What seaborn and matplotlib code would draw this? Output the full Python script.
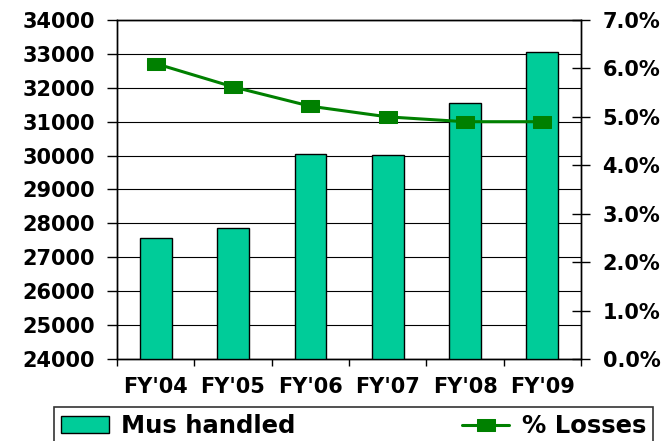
import matplotlib
matplotlib.use("Agg")
import matplotlib.pyplot as plt
import seaborn as sns
import numpy as np
from matplotlib.path import Path
from matplotlib.ticker import FuncFormatter, FixedLocator

# data
years = ["FY'04", "FY'05", "FY'06", "FY'07", "FY'08", "FY'09"]
mus_handled = [27560, 27850, 30040, 30010, 31550, 33050]
pct_losses = [6.1, 5.62, 5.22, 5.0, 4.9, 4.9]

bar_color = "#00CC99"
line_color = "#008000"

sns.set_style("white")
plt.rcParams["font.family"] = ["DejaVu Sans"]
plt.rcParams["font.weight"] = "bold"
plt.rcParams["text.color"] = "black"
plt.rcParams["xtick.color"] = "black"
plt.rcParams["ytick.color"] = "black"
plt.rcParams["axes.labelcolor"] = "black"

fig = plt.figure(figsize=(6.71, 4.41), dpi=100)
ax = fig.add_axes([0.1744, 0.186, 0.6915, 0.7686])

sns.barplot(x=years, y=mus_handled, color=bar_color, width=0.41,
            edgecolor="black", linewidth=1.0, saturation=1, ax=ax,
            label="Mus handled", zorder=3)
if ax.get_legend() is not None:
    ax.get_legend().remove()

ax.set_ylim(24000, 34000)
ax.set_xlim(-0.5, 5.5)
ax.set_yticks(np.arange(24000, 34001, 1000))
ax.yaxis.grid(True, color="black", linewidth=0.8)
ax.set_axisbelow(True)

# x: labels centred, tick marks at category borders
ax.xaxis.set_minor_locator(FixedLocator(np.arange(-0.5, 6, 1)))
ax.tick_params(axis="x", which="major", length=0, pad=13, labelsize=15,
               labelcolor="black")
ax.tick_params(axis="x", which="minor", length=5, width=1, direction="out",
               bottom=True, color="black")
ax.tick_params(axis="y", which="major", length=7, width=1, direction="out",
               left=True, pad=9, labelsize=15, color="black", labelcolor="black")
for lab in ax.get_xticklabels() + ax.get_yticklabels():
    lab.set_fontweight("bold")

for s in ax.spines.values():
    s.set_color("black")
    s.set_linewidth(1.0)

# secondary axis for % losses
ax2 = ax.twinx()
rect = Path([(-1.4, -1), (1.4, -1), (1.4, 1), (-1.4, 1), (-1.4, -1)],
            [Path.MOVETO, Path.LINETO, Path.LINETO, Path.LINETO, Path.CLOSEPOLY])
sns.lineplot(x=years, y=pct_losses, ax=ax2, color=line_color, linewidth=2.2,
             marker=rect, markersize=12.5, markeredgecolor=line_color,
             markerfacecolor=line_color, label="% Losses", legend=False)
ax2.set_ylim(0, 7)
ax2.set_yticks(np.arange(0, 7.01, 1))
ax2.yaxis.set_major_formatter(FuncFormatter(lambda v, p: f"{v:.1f}%"))
ax2.tick_params(axis="y", which="major", length=13, width=1, direction="inout",
                right=True, pad=9, labelsize=15, color="black", labelcolor="black")
for lab in ax2.get_yticklabels():
    lab.set_fontweight("bold")
ax2.set_xlim(-0.5, 5.5)
ax2.set_ylabel("")
for s in ax2.spines.values():
    s.set_color("black")
    s.set_linewidth(1.0)

h1, l1 = ax.get_legend_handles_labels()
h2, l2 = ax2.get_legend_handles_labels()
leg = fig.legend(h1 + h2, l1 + l2, loc="upper left", ncol=2, mode="expand",
                 bbox_to_anchor=(0.0805, -0.5, 0.893, 0.577),
                 bbox_transform=fig.transFigure, borderaxespad=0,
                 frameon=True, fancybox=False, edgecolor="black",
                 prop={"weight": "bold", "size": 17.5}, labelcolor="black",
                 handlelength=1.95, handletextpad=0.5, borderpad=0.3)
leg.get_frame().set_linewidth(1.2)

fig.savefig("out.png", dpi=100)
